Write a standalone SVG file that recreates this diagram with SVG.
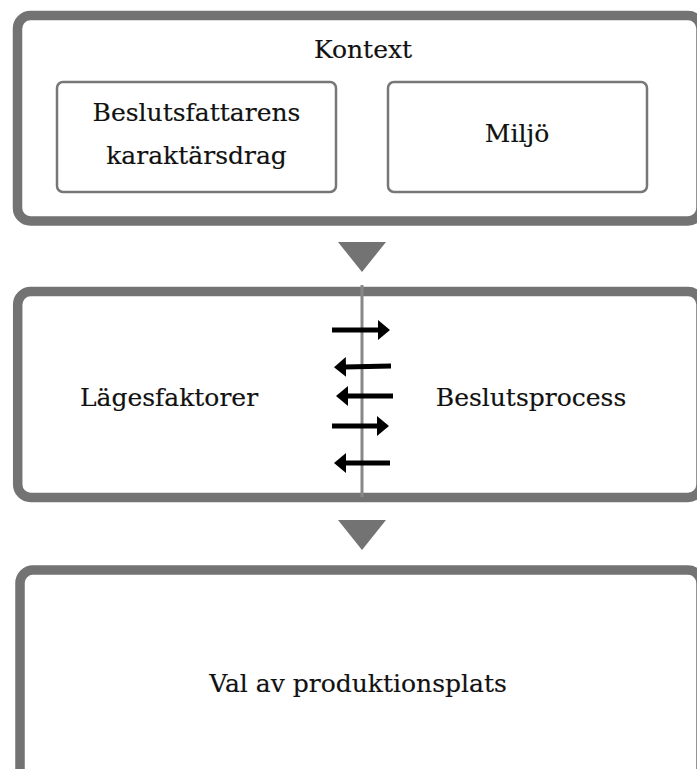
<svg xmlns="http://www.w3.org/2000/svg" width="697" height="769" viewBox="0 0 697 769">
  <style>
    .outer { fill: #ffffff; stroke: #737373; stroke-width: 9.5; }
    .inner { fill: #ffffff; stroke: #777777; stroke-width: 2.5; }
    .lbl { font-family: "DejaVu Serif", "Liberation Serif", serif; font-size: 25px; fill: #111111; stroke: #111111; stroke-width: 0.18; text-anchor: middle; }
    .tri { fill: #737373; }
    .arr { stroke: #000000; stroke-width: 5; fill: none; }
    .div { stroke: #888888; stroke-width: 3; }
  </style>
  <defs>
    <marker id="ah" markerUnits="userSpaceOnUse" markerWidth="12" markerHeight="20" viewBox="0 0 12 20" refX="1" refY="10" orient="auto">
      <path d="M0,0 L12,10 L0,20 z" fill="#000000"/>
    </marker>
  </defs>
  <rect width="697" height="769" fill="#ffffff"/>

  <g id="kontext">
    <rect class="outer" x="17.5" y="15.5" width="683.5" height="205.5" rx="13"/>
    <text class="lbl" x="363" y="58">Kontext</text>
  </g>
  <g id="beslutsfattarens">
    <rect class="inner" x="57" y="82" width="279" height="110" rx="6"/>
    <text class="lbl" x="196.5" y="121">Beslutsfattarens</text>
    <text class="lbl" x="196.5" y="164">karaktärsdrag</text>
  </g>
  <g id="miljo">
    <rect class="inner" x="388" y="82" width="259" height="110" rx="6"/>
    <text class="lbl" x="517" y="142">Miljö</text>
  </g>

  <g id="mitt">
    <rect class="outer" x="17.7" y="291.5" width="683.3" height="206" rx="13"/>
    <text class="lbl" x="169" y="406">Lägesfaktorer</text>
    <text class="lbl" x="531" y="406">Beslutsprocess</text>
  </g>

  <g id="val">
    <rect class="outer" x="20" y="570" width="681" height="220" rx="13"/>
    <text class="lbl" x="358" y="692">Val av produktionsplats</text>
  </g>

  <g id="connectors">
    <polygon class="tri" points="338,242 386,242 362,272"/>
    <polygon class="tri" points="338,520 386,520 362,550"/>
    <line class="div" x1="362" y1="285" x2="362" y2="497"/>
    <line class="arr" x1="332" y1="330" x2="379" y2="330" marker-end="url(#ah)"/>
    <line class="arr" x1="391" y1="366" x2="345" y2="367" marker-end="url(#ah)"/>
    <line class="arr" x1="393" y1="396" x2="347" y2="396" marker-end="url(#ah)"/>
    <line class="arr" x1="332" y1="426" x2="378" y2="426" marker-end="url(#ah)"/>
    <line class="arr" x1="390" y1="463" x2="345" y2="463" marker-end="url(#ah)"/>
  </g>
</svg>
